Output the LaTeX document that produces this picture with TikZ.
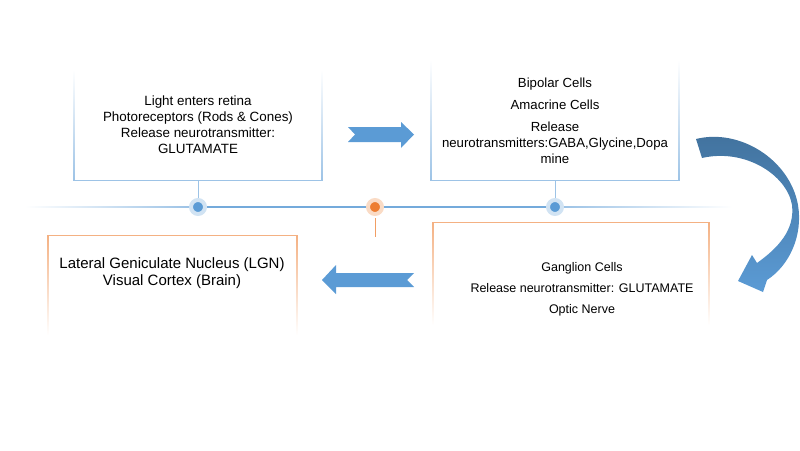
\documentclass[tikz,border=0pt]{standalone}
\usepackage{fontspec}
\setmainfont{Liberation Sans}
\usetikzlibrary{positioning}
\definecolor{eyeblue}{RGB}{91,155,213}
\definecolor{eyedeep}{RGB}{65,113,156}
\definecolor{eyepale}{RGB}{157,195,230}
\definecolor{eyeorange}{RGB}{237,125,49}
\definecolor{eyepeach}{RGB}{244,177,131}

\begin{document}
\begin{tikzpicture}[x=1pt,y=-1pt,
  font=\fontsize{13.4}{16}\selectfont,
  frame/.style={inner sep=0pt},
  txt/.style={align=center,inner sep=0pt},
  tline/.style={eyeblue!85,line width=1.4pt},
  stem/.style={eyepale,line width=0.9pt},
  ostem/.style={eyeorange!75,line width=0.9pt},
  bdot/.style={circle,fill=eyeblue,draw=eyeblue!28,line width=4pt,inner sep=0pt,minimum size=14pt},
  odot/.style={bdot,fill=eyeorange,draw=eyeorange!28},
  blockarrow/.style={fill=eyeblue}]

\useasboundingbox (0,0) rectangle (800,450);

% box frames
\node[frame,minimum width=248pt,minimum height=110pt] (photo) at (198,125) {};
\node[frame,minimum width=248pt,minimum height=120pt] (bipolar) at (555,120) {};
\node[frame,minimum width=249pt,minimum height=99pt] (brain) at (172.5,285.5) {};
\node[frame,minimum width=276pt,minimum height=102pt] (ganglion) at (571,274) {};

% upper boxes: sides fade in from the top
\shade[top color=white,bottom color=eyepale] ([xshift=-0.6pt]photo.north west) rectangle ([xshift=0.6pt]photo.south west);
\shade[top color=white,bottom color=eyepale] ([xshift=-0.6pt]photo.north east) rectangle ([xshift=0.6pt]photo.south east);
\draw[eyepale,line width=1.2pt] (photo.south west) -- (photo.south east);
\shade[top color=white,bottom color=eyepale] ([xshift=-0.6pt]bipolar.north west) rectangle ([xshift=0.6pt]bipolar.south west);
\shade[top color=white,bottom color=eyepale] ([xshift=-0.6pt]bipolar.north east) rectangle ([xshift=0.6pt]bipolar.south east);
\draw[eyepale,line width=1.2pt] (bipolar.south west) -- (bipolar.south east);

% lower boxes: sides fade out downwards
\shade[top color=eyepeach,bottom color=white] ([xshift=-0.6pt]brain.north west) rectangle ([xshift=0.6pt]brain.south west);
\shade[top color=eyepeach,bottom color=white] ([xshift=-0.6pt]brain.north east) rectangle ([xshift=0.6pt]brain.south east);
\draw[eyepeach,line width=1.2pt] (brain.north west) -- (brain.north east);
\shade[top color=eyepeach,bottom color=white] ([xshift=-0.6pt]ganglion.north west) rectangle ([xshift=0.6pt]ganglion.south west);
\shade[top color=eyepeach,bottom color=white] ([xshift=-0.6pt]ganglion.north east) rectangle ([xshift=0.6pt]ganglion.south east);
\draw[eyepeach,line width=1.2pt] (ganglion.north west) -- (ganglion.north east);

% texts
\node[txt] (photolbl) at (198,125) {Light enters retina\\Photoreceptors (Rods \& Cones)\\Release neurotransmitter:\\GLUTAMATE};
\node[txt,font=\fontsize{13.2}{16}\selectfont] (bipolarlbl) at (555,121) {Bipolar Cells\\[6pt]Amacrine Cells\\[6pt]Release\\neurotransmitters:GABA,Glycine,Dopa\\mine};
\node[txt,font=\fontsize{15}{17}\selectfont] (brainlbl) at (172,273.5) {Lateral Geniculate Nucleus (LGN)\\Visual Cortex (Brain)};
\node[txt,font=\fontsize{12.5}{15}\selectfont] (ganglionlbl) at (582,289) {Ganglion Cells\\[6pt]Release neurotransmitter: GLUTAMATE\\[6pt]Optic Nerve};

% timeline
\coordinate (tl) at (25,207);
\coordinate (tr) at (732,207);
\coordinate (oend) at (375,237);
\node[bdot] (d1) at (198,207) {};
\node[odot] (d3) at (375,207) {};
\node[bdot] (d2) at (555,207) {};
\shade[left color=white,right color=eyepale] ([yshift=-0.7pt]tl) rectangle ([yshift=0.7pt]d1.west);
\shade[left color=eyepale,right color=white] ([yshift=-0.7pt]d2.east) rectangle ([yshift=0.7pt]tr);
\draw[tline] (d1) -- (d3) -- (d2);
\draw[stem] (photo.south) -- (d1);
\draw[stem] (bipolar.south) -- (d2);
\draw[ostem] ([yshift=-2pt]d3.south) -- (oend);

% block arrows
\fill[blockarrow] (348,127) -- (401,127) -- (401,122) -- (414,134.5) -- (401,148) -- (401,142) -- (348,142) -- (355,134.5) -- cycle;
\fill[blockarrow] (414,273) -- (336,273) -- (336,265) -- (322,280) -- (336,294) -- (336,287) -- (414,287) -- (407,280) -- cycle;
\shade[top color=eyedeep,bottom color=eyeblue] (696,139) .. controls (740,128) and (790,160) .. (798,205)
  .. controls (803,235) and (790,265) .. (767,280) -- (763,292) -- (738,281) -- (752,255) -- (757,263)
  .. controls (778,248) and (795,230) .. (792,205) .. controls (787,175) and (745,148) .. (702,158) -- cycle;
\end{tikzpicture}
\end{document}
